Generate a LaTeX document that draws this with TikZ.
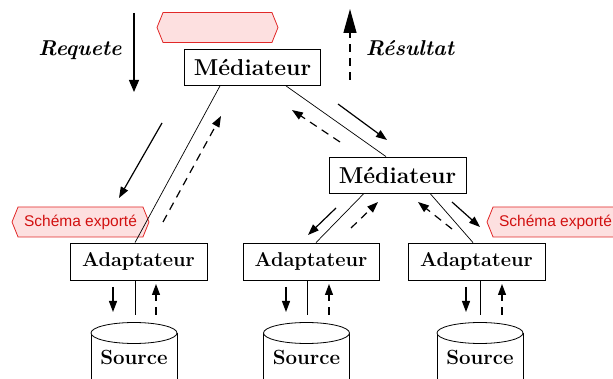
\documentclass[tikz,border=0pt]{standalone}
\usepackage{fontspec}
\newfontfamily\tagfont{Liberation Sans}
\usetikzlibrary{arrows.meta,shapes.symbols}
\definecolor{tagfill}{RGB}{253,224,224}
\definecolor{tagline}{RGB}{225,40,40}
\definecolor{tagtext}{RGB}{210,16,16}
\tikzset{
  medbox/.style={draw,line width=0.8pt,minimum width=136pt,minimum height=36pt,inner sep=0pt,
    font=\fontsize{23}{26}\selectfont\bfseries},
  adbox/.style={draw,line width=0.8pt,minimum width=137pt,minimum height=37pt,inner sep=0pt,
    font=\fontsize{20}{23}\selectfont\bfseries},
  srclabel/.style={inner sep=0pt,font=\fontsize{20.5}{23}\selectfont\bfseries},
  link/.style={line width=0.7pt},
  tagbox/.style={signal,signal to=west and east,signal pointer angle=136,draw=tagline,fill=tagfill,
    line width=0.8pt,minimum height=30pt,inner sep=0pt,text=tagtext,font=\tagfont\fontsize{15.5}{18}\selectfont},
  flowlabel/.style={font=\fontsize{21.5}{24}\selectfont\bfseries\itshape},
  req/.style={line width=1.2pt,-{Triangle[length=11pt,width=8pt]}},
  res/.style={line width=1.2pt,dash pattern=on 8pt off 6pt,-{Triangle[length=11pt,width=8pt]}},
}
\begin{document}
\begin{tikzpicture}[x=1pt,y=-1pt]
\useasboundingbox (0,0) rectangle (613,379);
\clip (0,0) rectangle (613,379);

% mediators and wrappers
\node[medbox] (med1) at (252.5,67.5) {Médiateur};
\node[medbox,minimum width=137pt] (med2) at (397.5,175) {Médiateur};
\node[adbox] (adL) at (138.5,261.5) {Adaptateur};
\node[adbox,minimum width=136pt] (adM) at (311,261.5) {Adaptateur};
\node[adbox] (adR) at (476.5,261.5) {Adaptateur};

% exported schema tags
\node[tagbox,minimum width=121pt] (tagtop) at (217.5,27.5) {};
\node[tagbox,minimum width=137pt] (tagL) at (80.5,222) {Schéma exporté};
\node[tagbox,minimum width=137pt] (tagR) at (555.5,222) {Schéma exporté};

% sources (cylinders running off the bottom edge)
\foreach \cx/\nm in {134/srcL,306.5/srcM,480/srcR}{
  \draw[line width=0.8pt] (\cx-43,333) -- (\cx-43,395) (\cx+43,333) -- (\cx+43,395);
  \draw[line width=0.8pt,fill=white] (\cx,333) ellipse (43 and 10.5);
  \node[srclabel] (\nm) at (\cx,357) {Source};
}

% hierarchy links
\draw[link] ([xshift=-32.5pt]med1.south) -- ([xshift=-3.5pt]adL.north);
\draw[link] ([xshift=33.5pt]med1.south) -- ([xshift=-11.5pt]med2.north);
\draw[link] ([xshift=-33.5pt]med2.south) -- ([xshift=5pt]adM.north);
\draw[link] ([xshift=32.5pt]med2.south) -- ([xshift=-3.5pt]adR.north);
\draw[link] ([xshift=-3.5pt]adL.south) -- ++(0,35);
\draw[link] ([xshift=-4pt]adM.south) -- ++(0,35);
\draw[link] ([xshift=3.5pt]adR.south) -- ++(0,35);

% query and result flows
\draw[line width=1.2pt,-{Triangle[length=12pt,width=10pt]}] (134,13) -- (134,92);
\draw[line width=1.2pt,dash pattern=on 8pt off 6pt,-{Triangle[length=24pt,width=13pt]}] (350,80) -- (350,9);
\node[flowlabel] (lreq) at (80,50) {Requete};
\node[flowlabel] (lres) at (410,48) {Résultat};

\draw[req] (162,123) -- (119,198);
\draw[res] (163,222) -- (221,116);
\draw[req] (338,104) -- (387,140);
\draw[res] (340,142) -- (292,110);
\draw[req] (336,208) -- (308,235);
\draw[res] (351,228) -- (378,202);
\draw[res] (452,229) -- (418,202);
\draw[req] (452,202) -- (480,227);

\draw[req] (113,287) -- (113,312);
\draw[res] (156,315) -- (156,284);
\draw[req] (286,287) -- (286,312);
\draw[res] (329,315) -- (329,284);
\draw[req] (466,287) -- (466,312);
\draw[res] (502,315) -- (502,284);
\end{tikzpicture}
\end{document}
